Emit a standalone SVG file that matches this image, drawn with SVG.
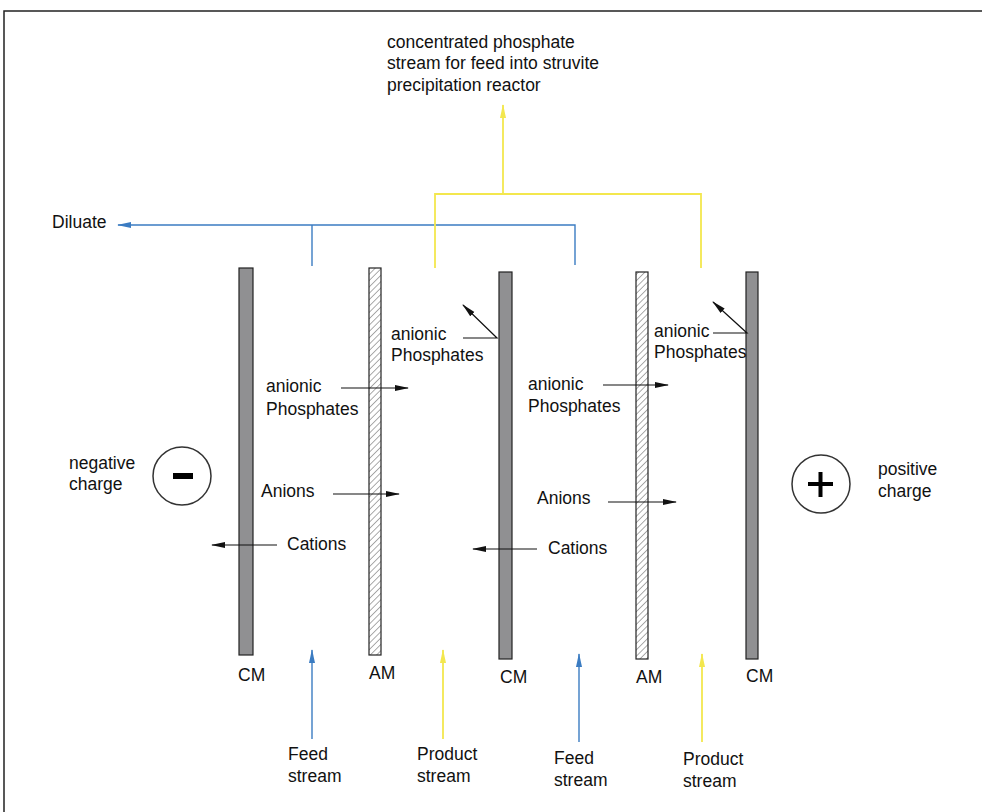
<svg xmlns="http://www.w3.org/2000/svg" width="982" height="812" viewBox="0 0 982 812">
<style>
text{font-family:"Liberation Sans",Arial,sans-serif;font-size:17.5px;fill:#111}
.cm{fill:#909092;stroke:#222;stroke-width:1.2}
.am{fill:url(#hatch);stroke:#222;stroke-width:1.2}
.blk{stroke:#111;stroke-width:1.2;fill:none}
.blue{stroke:#3b7cc2;stroke-width:1.4;fill:none}
.yel{stroke:#f3e74e;stroke-width:1.8;fill:none}
</style>
<defs>
<pattern id="hatch" patternUnits="userSpaceOnUse" width="4.5" height="4.5" patternTransform="rotate(45)">
<rect width="4.5" height="4.5" fill="#fff"/>
<line x1="0" y1="0" x2="0" y2="4.5" stroke="#888" stroke-width="1.4"/>
</pattern>
<marker id="ab" markerWidth="14" markerHeight="8" refX="13" refY="4" orient="auto" markerUnits="userSpaceOnUse">
<path d="M0,1 L14,4 L0,7 Z" fill="#111"/>
</marker>
<marker id="abl" markerWidth="14" markerHeight="8" refX="13" refY="4" orient="auto" markerUnits="userSpaceOnUse">
<path d="M0,1 L14,4 L0,7 Z" fill="#3b7cc2"/>
</marker>
<marker id="ay" markerWidth="14" markerHeight="8" refX="13" refY="4" orient="auto" markerUnits="userSpaceOnUse">
<path d="M0,1 L14,4 L0,7 Z" fill="#f3e74e"/>
</marker>
</defs>
<rect width="982" height="812" fill="#fff"/>
<path d="M4,812 V11 H982" fill="none" stroke="#222" stroke-width="1.5"/>

<g id="membranes">
<g id="cm1"><rect class="cm" x="239" y="268" width="14" height="387"/><text x="238" y="681">CM</text></g>
<g id="am1"><rect class="am" x="369" y="268" width="12" height="387"/><text x="369" y="679">AM</text></g>
<g id="cm2"><rect class="cm" x="499" y="272" width="13" height="387"/><text x="500" y="683">CM</text></g>
<g id="am2"><rect class="am" x="636" y="272" width="12" height="387"/><text x="636" y="683">AM</text></g>
<g id="cm3"><rect class="cm" x="746" y="272" width="12" height="387"/><text x="746" y="682">CM</text></g>
</g>

<g id="electrodes">
<g id="neg"><circle cx="182" cy="476" r="29" fill="#fff" stroke="#333" stroke-width="1.5"/><rect x="173" y="473" width="20" height="6" fill="#000"/>
<text x="69" y="469">negative</text><text x="69" y="490">charge</text></g>
<g id="pos"><circle cx="821" cy="484" r="29" fill="#fff" stroke="#333" stroke-width="1.5"/><rect x="808" y="482" width="25" height="4" fill="#000"/><rect x="818.5" y="472" width="4" height="25" fill="#000"/>
<text x="878" y="475">positive</text><text x="878" y="497">charge</text></g>
</g>

<g id="connectors">
<path class="blue" d="M575,265 V225 H118" marker-end="url(#abl)"/>
<path class="blue" d="M312,266 V225"/>
<path class="yel" d="M435,268 V194 H701 V268"/>
<path class="yel" d="M503,194 V105" marker-end="url(#ay)"/>
<path class="blue" d="M312,739 V650" marker-end="url(#abl)"/>
<path class="yel" d="M443,739 V650" marker-end="url(#ay)"/>
<path class="blue" d="M579,742 V654" marker-end="url(#abl)"/>
<path class="yel" d="M702,742 V654" marker-end="url(#ay)"/>
<path class="blk" d="M341,388 H408" marker-end="url(#ab)"/>
<path class="blk" d="M333,494 H399" marker-end="url(#ab)"/>
<path class="blk" d="M277,545 H212" marker-end="url(#ab)"/>
<path class="blk" d="M463,338 H497 L463,305" marker-end="url(#ab)"/>
<path class="blk" d="M603,385 H668" marker-end="url(#ab)"/>
<path class="blk" d="M608,502 H676" marker-end="url(#ab)"/>
<path class="blk" d="M537,549 H473" marker-end="url(#ab)"/>
<path class="blk" d="M713,333 H747 L713,302" marker-end="url(#ab)"/>
</g>

<g id="labels">
<text x="387" y="48">concentrated phosphate</text>
<text x="387" y="69">stream for feed into struvite</text>
<text x="387" y="91">precipitation reactor</text>
<text x="52" y="228">Diluate</text>
<text x="391" y="340">anionic</text><text x="391" y="361">Phosphates</text>
<text x="266" y="392">anionic</text><text x="266" y="415">Phosphates</text>
<text x="528" y="390">anionic</text><text x="528" y="412">Phosphates</text>
<text x="654" y="337">anionic</text><text x="654" y="358">Phosphates</text>
<text x="261" y="497">Anions</text>
<text x="287" y="550">Cations</text>
<text x="537" y="504">Anions</text>
<text x="548" y="554">Cations</text>
<text x="288" y="760">Feed</text><text x="288" y="782">stream</text>
<text x="417" y="760">Product</text><text x="417" y="782">stream</text>
<text x="554" y="764">Feed</text><text x="554" y="786">stream</text>
<text x="683" y="765">Product</text><text x="683" y="787">stream</text>
</g>
</svg>
